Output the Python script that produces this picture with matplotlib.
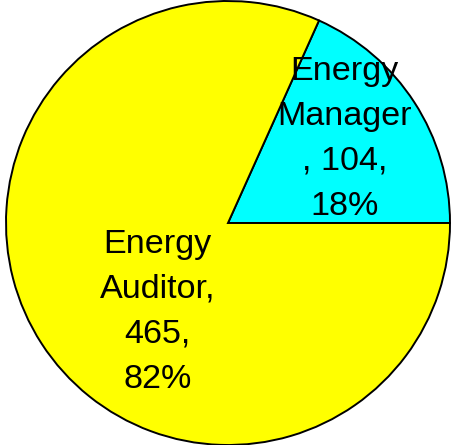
import matplotlib
matplotlib.use('Agg')
import matplotlib.pyplot as plt

# data
roles = ['Energy Manager', 'Energy Auditor']
counts = [104, 465]
percents = [18, 82]
label_text = ['Energy\nManager\n, 104,\n18%', 'Energy\nAuditor,\n465,\n82%']
colors = ['#00FFFF', '#FFFF00']
label_pos = [(0.525, 0.38), (-0.318, -0.40)]

plt.rcParams['font.family'] = ['Liberation Sans', 'DejaVu Sans']

fig = plt.figure(figsize=(4.51, 4.45), dpi=100)
ax = fig.add_axes([6 / 451, 0 / 445, 444 / 451, 444 / 445])
ax.pie(counts, colors=colors, startangle=0, counterclock=True,
       radius=1.0, wedgeprops=dict(edgecolor='black', linewidth=1.4))
for txt, (x, y) in zip(label_text, label_pos):
    ax.text(x, y, txt, ha='center', va='center', fontsize=24.6,
            linespacing=1.58, multialignment='center')
ax.set_xlim(-1, 1)
ax.set_ylim(-1, 1)
ax.set_aspect('auto')
ax.axis('off')
fig.savefig('out.png', dpi=100)
